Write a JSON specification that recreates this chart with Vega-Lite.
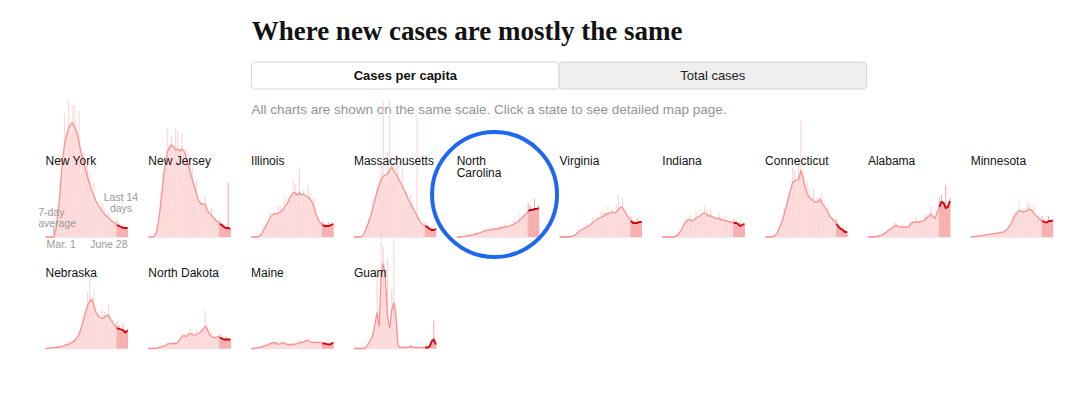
{
"$schema":"https://vega.github.io/schema/vega-lite/v6.json",
"background":"white",
"padding":{"left":37.5,"top":17,"right":0,"bottom":0},
"autosize":{"type":"pad"},
"config":{"view":{"stroke":null},"axis":{"disable":true},"font":"Liberation Sans","headerFacet":{"labels":false,"labelFontSize":0,"labelPadding":0}},
"title":{"text":"Where new cases are mostly the same","anchor":"start","dx":213.5,"offset":-5,"baseline":"alphabetic","font":"Liberation Serif","fontSize":27,"fontWeight":"bold","color":"#121212"},
"bounds":"flush",
"spacing":78,
"resolve":{"scale":{"x":"independent","y":"independent"}},
"vconcat":[
{
"width":1009,"height":27,
"data":{"values":[
{"k":"btn","t":"Cases per capita","x0":0,"x1":1,"xm":0.5,"on":1},
{"k":"btn","t":"Total cases","x0":1,"x1":2,"xm":1.5,"on":0},
{"k":"sub","t":"All charts are shown on the same scale. Click a state to see detailed map page.","x0":0}
]},
"layer":[
{"transform":[{"filter":"datum.k == 'btn'"}],
"mark":{"type":"rect","stroke":"#d6d6d6","strokeWidth":1,"cornerRadius":3},
"encoding":{
"x":{"field":"x0","type":"quantitative","scale":{"domain":[-0.67,2.611]},"axis":null},
"x2":{"field":"x1"},
"y":{"datum":0,"type":"quantitative","scale":{"domain":[0,1]},"axis":null},
"y2":{"datum":1},
"color":{"condition":{"test":"datum.on == 1","value":"#ffffff"},"value":"#efefef"}}},
{"transform":[{"filter":"datum.k == 'btn' && datum.on == 1"}],
"mark":{"type":"text","fontSize":13,"fontWeight":"bold","color":"#121212","baseline":"middle","align":"center"},
"encoding":{"x":{"field":"xm","type":"quantitative","scale":{"domain":[-0.67,2.611]},"axis":null},"y":{"datum":0.5,"type":"quantitative","scale":{"domain":[0,1]},"axis":null},"text":{"field":"t"}}},
{"transform":[{"filter":"datum.k == 'btn' && datum.on == 0"}],
"mark":{"type":"text","fontSize":13,"color":"#222222","baseline":"middle","align":"center"},
"encoding":{"x":{"field":"xm","type":"quantitative","scale":{"domain":[-0.67,2.611]},"axis":null},"y":{"datum":0.5,"type":"quantitative","scale":{"domain":[0,1]},"axis":null},"text":{"field":"t"}}},
{"transform":[{"filter":"datum.k == 'sub'"}],
"mark":{"type":"text","fontSize":13.5,"color":"#949494","baseline":"middle","align":"left"},
"encoding":{"x":{"field":"x0","type":"quantitative","scale":{"domain":[-0.67,2.611]},"axis":null},"y":{"datum":-0.78,"type":"quantitative","scale":{"domain":[0,1]},"axis":null},"text":{"field":"t"}}}
]
},
{
"data":{"values":[
{"s":"NY","t":"New York"},{"s":"NJ","t":"New Jersey"},{"s":"IL","t":"Illinois"},{"s":"MA","t":"Massachusetts"},{"s":"NC","t":"North\nCarolina"},{"s":"VA","t":"Virginia"},{"s":"IN","t":"Indiana"},{"s":"CT","t":"Connecticut"},{"s":"AL","t":"Alabama"},{"s":"MN","t":"Minnesota"},{"s":"NE","t":"Nebraska"},{"s":"ND","t":"North Dakota"},{"s":"ME","t":"Maine"},{"s":"GU","t":"Guam"},
{"s":"NY","k":"avg","n":"7-day\naverage","d":-10.5,"y":10.75},
{"s":"NY","k":"last","n":"Last 14\ndays","d":107.7,"y":18},
{"s":"NY","k":"start","n":"Mar. 1","d":1.5,"y":0},
{"s":"NY","k":"end","n":"June 28","d":117,"y":0},
{"s":"NY","k":"tick","d":12,"y":1,"y2":5},
{"s":"NC","k":"circle","d":54,"y":21.25},
{"s":"NY","d":0,"a":0,"b":0},{"s":"NY","d":3,"a":0,"b":0},{"s":"NY","d":6,"a":0,"b":0},{"s":"NY","d":9,"a":0,"b":0},{"s":"NY","d":12,"a":0,"b":0},{"s":"NY","d":15,"a":4,"b":3.5},{"s":"NY","d":18,"a":12.5,"b":16},{"s":"NY","d":21,"a":23.5,"b":28},{"s":"NY","d":24,"a":37.5,"b":30},{"s":"NY","d":27,"a":46,"b":62},{"s":"NY","d":30,"a":51,"b":38},{"s":"NY","d":33,"a":54.5,"b":68},{"s":"NY","d":36,"a":56.5,"b":51},{"s":"NY","d":39,"a":57,"b":66},{"s":"NY","d":42,"a":55,"b":66},{"s":"NY","d":45,"a":52,"b":41.5},{"s":"NY","d":48,"a":47,"b":63.5},{"s":"NY","d":51,"a":42,"b":31.5},{"s":"NY","d":54,"a":38,"b":42},{"s":"NY","d":57,"a":34,"b":30.5},{"s":"NY","d":60,"a":30,"b":39},{"s":"NY","d":63,"a":26.5,"b":32},{"s":"NY","d":66,"a":23,"b":18.5},{"s":"NY","d":69,"a":20.5,"b":27.5},{"s":"NY","d":72,"a":18,"b":13.5},{"s":"NY","d":75,"a":16,"b":17.5},{"s":"NY","d":78,"a":14.5,"b":13},{"s":"NY","d":81,"a":13,"b":17},{"s":"NY","d":84,"a":11.5,"b":14},{"s":"NY","d":87,"a":10.5,"b":8.5},{"s":"NY","d":90,"a":9.5,"b":13},{"s":"NY","d":93,"a":8.5,"b":6.5},{"s":"NY","d":96,"a":7.5,"b":8.5},{"s":"NY","d":99,"a":7,"b":6.5},{"s":"NY","d":102,"a":6,"b":8},{"s":"NY","d":105,"a":5.5,"b":6.5},{"s":"NY","d":108,"a":5,"b":4},{"s":"NY","d":111,"a":4.5,"b":6},{"s":"NY","d":114,"a":4.5,"b":3.5},{"s":"NY","d":117,"a":4.5,"b":5},
{"s":"NJ","d":0,"a":0,"b":0},{"s":"NJ","d":3,"a":0,"b":0},{"s":"NJ","d":6,"a":0,"b":0},{"s":"NJ","d":9,"a":0.5,"b":0.5},{"s":"NJ","d":12,"a":3,"b":3.5},{"s":"NJ","d":15,"a":9,"b":8},{"s":"NJ","d":18,"a":17.5,"b":23},{"s":"NJ","d":21,"a":27.5,"b":33},{"s":"NJ","d":24,"a":36,"b":29},{"s":"NJ","d":27,"a":42,"b":54},{"s":"NJ","d":30,"a":45,"b":34},{"s":"NJ","d":33,"a":46,"b":50.5},{"s":"NJ","d":36,"a":45,"b":40.5},{"s":"NJ","d":39,"a":43.5,"b":54},{"s":"NJ","d":42,"a":44,"b":53},{"s":"NJ","d":45,"a":43,"b":34.5},{"s":"NJ","d":48,"a":44,"b":52},{"s":"NJ","d":51,"a":43,"b":32},{"s":"NJ","d":54,"a":40,"b":44},{"s":"NJ","d":57,"a":36,"b":32.5},{"s":"NJ","d":60,"a":32,"b":41.5},{"s":"NJ","d":63,"a":28.5,"b":34},{"s":"NJ","d":66,"a":25,"b":20},{"s":"NJ","d":69,"a":21,"b":28.5},{"s":"NJ","d":72,"a":18,"b":13.5},{"s":"NJ","d":75,"a":16.5,"b":18},{"s":"NJ","d":78,"a":16.5,"b":15},{"s":"NJ","d":81,"a":16,"b":21},{"s":"NJ","d":84,"a":13.5,"b":16},{"s":"NJ","d":87,"a":12,"b":9.5},{"s":"NJ","d":90,"a":11,"b":15},{"s":"NJ","d":93,"a":9.5,"b":7},{"s":"NJ","d":96,"a":8.5,"b":9.5},{"s":"NJ","d":99,"a":7.5,"b":7},{"s":"NJ","d":102,"a":6.5,"b":8.5},{"s":"NJ","d":105,"a":6,"b":7},{"s":"NJ","d":108,"a":5,"b":4},{"s":"NJ","d":111,"a":4.5,"b":6},{"s":"NJ","d":114,"a":4.5,"b":27},{"s":"NJ","d":117,"a":4,"b":4.5},
{"s":"IL","d":0,"a":0,"b":0},{"s":"IL","d":3,"a":0,"b":0},{"s":"IL","d":6,"a":0,"b":0},{"s":"IL","d":9,"a":0,"b":0},{"s":"IL","d":12,"a":0.5,"b":0.5},{"s":"IL","d":15,"a":1.5,"b":1.5},{"s":"IL","d":18,"a":3.5,"b":4.5},{"s":"IL","d":21,"a":5.5,"b":6.5},{"s":"IL","d":24,"a":7.5,"b":6},{"s":"IL","d":27,"a":9.5,"b":13},{"s":"IL","d":30,"a":11,"b":8},{"s":"IL","d":33,"a":11.5,"b":12.5},{"s":"IL","d":36,"a":11.5,"b":10.5},{"s":"IL","d":39,"a":12,"b":15.5},{"s":"IL","d":42,"a":12.5,"b":15},{"s":"IL","d":45,"a":13.5,"b":11},{"s":"IL","d":48,"a":15,"b":20},{"s":"IL","d":51,"a":16.5,"b":12.5},{"s":"IL","d":54,"a":18.5,"b":20.5},{"s":"IL","d":57,"a":20.5,"b":18.5},{"s":"IL","d":60,"a":22,"b":28.5},{"s":"IL","d":63,"a":22,"b":26.5},{"s":"IL","d":66,"a":21,"b":17},{"s":"IL","d":69,"a":22,"b":35},{"s":"IL","d":72,"a":21,"b":16},{"s":"IL","d":75,"a":21.5,"b":23.5},{"s":"IL","d":78,"a":20.5,"b":18.5},{"s":"IL","d":81,"a":20,"b":26},{"s":"IL","d":84,"a":19,"b":23},{"s":"IL","d":87,"a":17.5,"b":14},{"s":"IL","d":90,"a":14.5,"b":19.5},{"s":"IL","d":93,"a":11,"b":8},{"s":"IL","d":96,"a":8.5,"b":9.5},{"s":"IL","d":99,"a":7,"b":6.5},{"s":"IL","d":102,"a":6,"b":8},{"s":"IL","d":105,"a":5.5,"b":6.5},{"s":"IL","d":108,"a":5.5,"b":4.5},{"s":"IL","d":111,"a":5.5,"b":7.5},{"s":"IL","d":114,"a":6,"b":4.5},{"s":"IL","d":117,"a":6.5,"b":7},
{"s":"MA","d":0,"a":0,"b":0},{"s":"MA","d":3,"a":0,"b":0},{"s":"MA","d":6,"a":0,"b":0},{"s":"MA","d":9,"a":0,"b":0},{"s":"MA","d":12,"a":0.5,"b":0.5},{"s":"MA","d":15,"a":2,"b":2},{"s":"MA","d":18,"a":4.5,"b":6},{"s":"MA","d":21,"a":7.5,"b":9},{"s":"MA","d":24,"a":10.5,"b":8.5},{"s":"MA","d":27,"a":14.5,"b":19.5},{"s":"MA","d":30,"a":18.5,"b":14},{"s":"MA","d":33,"a":22.5,"b":25},{"s":"MA","d":36,"a":26,"b":23.5},{"s":"MA","d":39,"a":29,"b":37.5},{"s":"MA","d":42,"a":30.5,"b":68},{"s":"MA","d":45,"a":31,"b":25},{"s":"MA","d":48,"a":31.5,"b":42.5},{"s":"MA","d":51,"a":33.5,"b":68},{"s":"MA","d":54,"a":35,"b":38.5},{"s":"MA","d":57,"a":33,"b":29.5},{"s":"MA","d":60,"a":31.5,"b":41},{"s":"MA","d":63,"a":29.5,"b":35.5},{"s":"MA","d":66,"a":27.5,"b":22},{"s":"MA","d":69,"a":25.5,"b":34.5},{"s":"MA","d":72,"a":23.5,"b":17.5},{"s":"MA","d":75,"a":21,"b":23},{"s":"MA","d":78,"a":18.5,"b":16.5},{"s":"MA","d":81,"a":16.5,"b":21.5},{"s":"MA","d":84,"a":14.5,"b":17.5},{"s":"MA","d":87,"a":12.5,"b":10},{"s":"MA","d":90,"a":10.5,"b":60},{"s":"MA","d":93,"a":8.5,"b":6.5},{"s":"MA","d":96,"a":7,"b":7.5},{"s":"MA","d":99,"a":6,"b":5.5},{"s":"MA","d":102,"a":5.5,"b":7},{"s":"MA","d":105,"a":5,"b":6},{"s":"MA","d":108,"a":4,"b":3},{"s":"MA","d":111,"a":3.5,"b":4.5},{"s":"MA","d":114,"a":3.5,"b":2.5},{"s":"MA","d":117,"a":4,"b":4.5},
{"s":"NC","d":0,"a":0,"b":0},{"s":"NC","d":3,"a":0,"b":0},{"s":"NC","d":6,"a":0,"b":0},{"s":"NC","d":9,"a":0.2,"b":0.2},{"s":"NC","d":12,"a":0.4,"b":0.4},{"s":"NC","d":15,"a":0.5,"b":0.5},{"s":"NC","d":18,"a":0.8,"b":1},{"s":"NC","d":21,"a":1,"b":1.2},{"s":"NC","d":24,"a":1.2,"b":1},{"s":"NC","d":27,"a":1.5,"b":2},{"s":"NC","d":30,"a":1.8,"b":1.4},{"s":"NC","d":33,"a":2,"b":2.2},{"s":"NC","d":36,"a":2.5,"b":2.2},{"s":"NC","d":39,"a":3,"b":4},{"s":"NC","d":42,"a":3.2,"b":3.8},{"s":"NC","d":45,"a":3.5,"b":2.8},{"s":"NC","d":48,"a":3.5,"b":4.7},{"s":"NC","d":51,"a":3.8,"b":2.8},{"s":"NC","d":54,"a":4,"b":4.4},{"s":"NC","d":57,"a":4,"b":3.6},{"s":"NC","d":60,"a":4.2,"b":5.5},{"s":"NC","d":63,"a":4.5,"b":5.4},{"s":"NC","d":66,"a":4.8,"b":3.8},{"s":"NC","d":69,"a":5,"b":6.8},{"s":"NC","d":72,"a":5.2,"b":3.9},{"s":"NC","d":75,"a":5.5,"b":6},{"s":"NC","d":78,"a":6,"b":5.4},{"s":"NC","d":81,"a":6.2,"b":8},{"s":"NC","d":84,"a":7,"b":8.4},{"s":"NC","d":87,"a":7.5,"b":6},{"s":"NC","d":90,"a":8.5,"b":11.5},{"s":"NC","d":93,"a":9.5,"b":7},{"s":"NC","d":96,"a":10.5,"b":11.5},{"s":"NC","d":99,"a":11.5,"b":10.5},{"s":"NC","d":102,"a":13,"b":17},{"s":"NC","d":105,"a":13.5,"b":16},{"s":"NC","d":108,"a":13.5,"b":11},{"s":"NC","d":111,"a":14,"b":19},{"s":"NC","d":114,"a":14,"b":10.5},{"s":"NC","d":117,"a":14.5,"b":16},
{"s":"VA","d":0,"a":0,"b":0},{"s":"VA","d":3,"a":0,"b":0},{"s":"VA","d":6,"a":0,"b":0},{"s":"VA","d":9,"a":0,"b":0},{"s":"VA","d":12,"a":0,"b":0},{"s":"VA","d":15,"a":0.2,"b":0.2},{"s":"VA","d":18,"a":0.2,"b":0.3},{"s":"VA","d":21,"a":0.8,"b":1},{"s":"VA","d":24,"a":1.5,"b":1.2},{"s":"VA","d":27,"a":2.5,"b":3.4},{"s":"VA","d":30,"a":3.5,"b":2.6},{"s":"VA","d":33,"a":4,"b":4.4},{"s":"VA","d":36,"a":4.5,"b":4},{"s":"VA","d":39,"a":5,"b":6.5},{"s":"VA","d":42,"a":5.5,"b":6.6},{"s":"VA","d":45,"a":6.5,"b":5.2},{"s":"VA","d":48,"a":7.5,"b":10},{"s":"VA","d":51,"a":8,"b":6},{"s":"VA","d":54,"a":9,"b":10},{"s":"VA","d":57,"a":9.5,"b":8.5},{"s":"VA","d":60,"a":10,"b":13},{"s":"VA","d":63,"a":10.5,"b":12.5},{"s":"VA","d":66,"a":11.5,"b":9.2},{"s":"VA","d":69,"a":11.5,"b":15.5},{"s":"VA","d":72,"a":12,"b":9},{"s":"VA","d":75,"a":12.5,"b":13.8},{"s":"VA","d":78,"a":12,"b":10.8},{"s":"VA","d":81,"a":12.5,"b":16.3},{"s":"VA","d":84,"a":13.5,"b":21},{"s":"VA","d":87,"a":15,"b":12},{"s":"VA","d":90,"a":14.5,"b":19.6},{"s":"VA","d":93,"a":13,"b":9.8},{"s":"VA","d":96,"a":11,"b":12},{"s":"VA","d":99,"a":9.5,"b":8.5},{"s":"VA","d":102,"a":8,"b":10.4},{"s":"VA","d":105,"a":7,"b":8.4},{"s":"VA","d":108,"a":7,"b":5.6},{"s":"VA","d":111,"a":7,"b":9.5},{"s":"VA","d":114,"a":7.5,"b":5.6},{"s":"VA","d":117,"a":7.5,"b":8.2},
{"s":"IN","d":0,"a":0,"b":0},{"s":"IN","d":3,"a":0,"b":0},{"s":"IN","d":6,"a":0,"b":0},{"s":"IN","d":9,"a":0,"b":0},{"s":"IN","d":12,"a":0,"b":0},{"s":"IN","d":15,"a":0,"b":0},{"s":"IN","d":18,"a":0.2,"b":0.3},{"s":"IN","d":21,"a":0.8,"b":1},{"s":"IN","d":24,"a":2,"b":1.6},{"s":"IN","d":27,"a":3.5,"b":4.7},{"s":"IN","d":30,"a":5.5,"b":4.1},{"s":"IN","d":33,"a":7.5,"b":8.3},{"s":"IN","d":36,"a":8.5,"b":7.7},{"s":"IN","d":39,"a":8.5,"b":11},{"s":"IN","d":42,"a":8,"b":9.6},{"s":"IN","d":45,"a":8.5,"b":6.8},{"s":"IN","d":48,"a":9.5,"b":12.8},{"s":"IN","d":51,"a":10,"b":7.5},{"s":"IN","d":54,"a":10.5,"b":11.5},{"s":"IN","d":57,"a":11.5,"b":10.4},{"s":"IN","d":60,"a":12,"b":15.6},{"s":"IN","d":63,"a":11.5,"b":13.8},{"s":"IN","d":66,"a":10.5,"b":8.4},{"s":"IN","d":69,"a":10.5,"b":14.2},{"s":"IN","d":72,"a":10,"b":7.5},{"s":"IN","d":75,"a":9.5,"b":10.5},{"s":"IN","d":78,"a":9,"b":8.1},{"s":"IN","d":81,"a":9.5,"b":12.4},{"s":"IN","d":84,"a":8.5,"b":10.2},{"s":"IN","d":87,"a":8.5,"b":6.8},{"s":"IN","d":90,"a":8,"b":10.8},{"s":"IN","d":93,"a":8,"b":6},{"s":"IN","d":96,"a":7.5,"b":8.3},{"s":"IN","d":99,"a":7.5,"b":6.8},{"s":"IN","d":102,"a":7,"b":9.1},{"s":"IN","d":105,"a":7,"b":8.4},{"s":"IN","d":108,"a":6.5,"b":5.2},{"s":"IN","d":111,"a":5.5,"b":7.4},{"s":"IN","d":114,"a":6,"b":4.5},{"s":"IN","d":117,"a":6.5,"b":7.2},
{"s":"CT","d":0,"a":0,"b":0},{"s":"CT","d":3,"a":0,"b":0},{"s":"CT","d":6,"a":0,"b":0},{"s":"CT","d":9,"a":0,"b":0},{"s":"CT","d":12,"a":0.2,"b":0.2},{"s":"CT","d":15,"a":1,"b":0.9},{"s":"CT","d":18,"a":2.5,"b":3.3},{"s":"CT","d":21,"a":5,"b":6},{"s":"CT","d":24,"a":7.5,"b":6},{"s":"CT","d":27,"a":11,"b":15},{"s":"CT","d":30,"a":15,"b":11},{"s":"CT","d":33,"a":19,"b":21},{"s":"CT","d":36,"a":23,"b":20.5},{"s":"CT","d":39,"a":27,"b":35},{"s":"CT","d":42,"a":28,"b":33.5},{"s":"CT","d":45,"a":28.5,"b":23},{"s":"CT","d":48,"a":29,"b":39},{"s":"CT","d":51,"a":33,"b":58},{"s":"CT","d":54,"a":30,"b":33},{"s":"CT","d":57,"a":25,"b":22.5},{"s":"CT","d":60,"a":21.5,"b":28},{"s":"CT","d":63,"a":20,"b":24},{"s":"CT","d":66,"a":19,"b":15},{"s":"CT","d":69,"a":18,"b":24.5},{"s":"CT","d":72,"a":17.5,"b":13},{"s":"CT","d":75,"a":17.5,"b":19.5},{"s":"CT","d":78,"a":19,"b":17},{"s":"CT","d":81,"a":17,"b":22},{"s":"CT","d":84,"a":15.5,"b":18.5},{"s":"CT","d":87,"a":14,"b":11},{"s":"CT","d":90,"a":12,"b":16},{"s":"CT","d":93,"a":10,"b":7.5},{"s":"CT","d":96,"a":9,"b":10},{"s":"CT","d":99,"a":8,"b":7},{"s":"CT","d":102,"a":6.5,"b":8.5},{"s":"CT","d":105,"a":5,"b":6},{"s":"CT","d":108,"a":4,"b":3.2},{"s":"CT","d":111,"a":3.5,"b":4.7},{"s":"CT","d":114,"a":2.5,"b":1.9},{"s":"CT","d":117,"a":2.5,"b":2.8},
{"s":"AL","d":0,"a":0,"b":0},{"s":"AL","d":3,"a":0,"b":0},{"s":"AL","d":6,"a":0,"b":0},{"s":"AL","d":9,"a":0,"b":0},{"s":"AL","d":12,"a":0.2,"b":0.2},{"s":"AL","d":15,"a":0.5,"b":0.5},{"s":"AL","d":18,"a":0.8,"b":1},{"s":"AL","d":21,"a":1.2,"b":1.4},{"s":"AL","d":24,"a":1.8,"b":1.4},{"s":"AL","d":27,"a":2.5,"b":3.4},{"s":"AL","d":30,"a":3.5,"b":2.6},{"s":"AL","d":33,"a":4.2,"b":4.6},{"s":"AL","d":36,"a":5,"b":4.5},{"s":"AL","d":39,"a":5.8,"b":7.5},{"s":"AL","d":42,"a":5.5,"b":6.6},{"s":"AL","d":45,"a":5,"b":4},{"s":"AL","d":48,"a":4.8,"b":6.5},{"s":"AL","d":51,"a":5,"b":3.8},{"s":"AL","d":54,"a":5,"b":5.5},{"s":"AL","d":57,"a":5,"b":4.5},{"s":"AL","d":60,"a":6,"b":7.8},{"s":"AL","d":63,"a":7,"b":8.4},{"s":"AL","d":66,"a":7.5,"b":6},{"s":"AL","d":69,"a":7.5,"b":10},{"s":"AL","d":72,"a":7.5,"b":5.6},{"s":"AL","d":75,"a":7.5,"b":8.2},{"s":"AL","d":78,"a":8,"b":7.2},{"s":"AL","d":81,"a":8.5,"b":11},{"s":"AL","d":84,"a":9.5,"b":11.4},{"s":"AL","d":87,"a":10.5,"b":8.4},{"s":"AL","d":90,"a":11.5,"b":15.5},{"s":"AL","d":93,"a":10,"b":7.5},{"s":"AL","d":96,"a":9.5,"b":10.5},{"s":"AL","d":99,"a":12.5,"b":11.2},{"s":"AL","d":102,"a":15,"b":19.5},{"s":"AL","d":105,"a":17.5,"b":21},{"s":"AL","d":108,"a":17,"b":13.6},{"s":"AL","d":111,"a":14.5,"b":26},{"s":"AL","d":114,"a":15,"b":11.2},{"s":"AL","d":117,"a":18,"b":19.8},
{"s":"MN","d":0,"a":0,"b":0},{"s":"MN","d":3,"a":0.2,"b":0.2},{"s":"MN","d":6,"a":0.2,"b":0.3},{"s":"MN","d":9,"a":0.4,"b":0.3},{"s":"MN","d":12,"a":0.5,"b":0.5},{"s":"MN","d":15,"a":0.6,"b":0.5},{"s":"MN","d":18,"a":0.8,"b":1},{"s":"MN","d":21,"a":1,"b":1.2},{"s":"MN","d":24,"a":1.2,"b":1},{"s":"MN","d":27,"a":1.4,"b":1.9},{"s":"MN","d":30,"a":1.5,"b":1.1},{"s":"MN","d":33,"a":1.7,"b":1.9},{"s":"MN","d":36,"a":1.8,"b":1.6},{"s":"MN","d":39,"a":2,"b":2.6},{"s":"MN","d":42,"a":2.2,"b":2.6},{"s":"MN","d":45,"a":2.4,"b":1.9},{"s":"MN","d":48,"a":2.5,"b":3.4},{"s":"MN","d":51,"a":3.5,"b":2.6},{"s":"MN","d":54,"a":4.8,"b":5.3},{"s":"MN","d":57,"a":6.5,"b":5.9},{"s":"MN","d":60,"a":8.5,"b":11},{"s":"MN","d":63,"a":10.5,"b":12.6},{"s":"MN","d":66,"a":12,"b":9.6},{"s":"MN","d":69,"a":13.2,"b":17.8},{"s":"MN","d":72,"a":13,"b":9.8},{"s":"MN","d":75,"a":12.5,"b":13.8},{"s":"MN","d":78,"a":12.8,"b":11.5},{"s":"MN","d":81,"a":13.5,"b":17.5},{"s":"MN","d":84,"a":14,"b":16.8},{"s":"MN","d":87,"a":13.2,"b":10.6},{"s":"MN","d":90,"a":12,"b":16.2},{"s":"MN","d":93,"a":10.8,"b":8.1},{"s":"MN","d":96,"a":9.8,"b":10.8},{"s":"MN","d":99,"a":8.8,"b":7.9},{"s":"MN","d":102,"a":8,"b":10.4},{"s":"MN","d":105,"a":7.5,"b":9},{"s":"MN","d":108,"a":7.2,"b":5.8},{"s":"MN","d":111,"a":7.8,"b":10.5},{"s":"MN","d":114,"a":8,"b":6},{"s":"MN","d":117,"a":8.2,"b":9},
{"s":"NE","d":0,"a":0,"b":0},{"s":"NE","d":3,"a":0.1,"b":0.1},{"s":"NE","d":6,"a":0.2,"b":0.3},{"s":"NE","d":9,"a":0.3,"b":0.2},{"s":"NE","d":12,"a":0.4,"b":0.4},{"s":"NE","d":15,"a":0.5,"b":0.5},{"s":"NE","d":18,"a":0.7,"b":0.9},{"s":"NE","d":21,"a":0.9,"b":1.1},{"s":"NE","d":24,"a":1.1,"b":0.9},{"s":"NE","d":27,"a":1.5,"b":2},{"s":"NE","d":30,"a":1.9,"b":1.4},{"s":"NE","d":33,"a":2.2,"b":2.4},{"s":"NE","d":36,"a":2.8,"b":2.5},{"s":"NE","d":39,"a":3.2,"b":4.2},{"s":"NE","d":42,"a":4,"b":4.8},{"s":"NE","d":45,"a":5.5,"b":4.4},{"s":"NE","d":48,"a":7,"b":9.5},{"s":"NE","d":51,"a":10.5,"b":7.9},{"s":"NE","d":54,"a":14,"b":15.4},{"s":"NE","d":57,"a":18,"b":16.2},{"s":"NE","d":60,"a":21.5,"b":28},{"s":"NE","d":63,"a":23.5,"b":35},{"s":"NE","d":66,"a":24.5,"b":19.6},{"s":"NE","d":69,"a":21.5,"b":29},{"s":"NE","d":72,"a":18,"b":13.5},{"s":"NE","d":75,"a":16.5,"b":18},{"s":"NE","d":78,"a":15.5,"b":14},{"s":"NE","d":81,"a":15,"b":19.5},{"s":"NE","d":84,"a":15.5,"b":18.6},{"s":"NE","d":87,"a":16.5,"b":13.2},{"s":"NE","d":90,"a":16.5,"b":22.3},{"s":"NE","d":93,"a":14.5,"b":10.9},{"s":"NE","d":96,"a":13,"b":14.3},{"s":"NE","d":99,"a":11.5,"b":10.4},{"s":"NE","d":102,"a":10.2,"b":13.3},{"s":"NE","d":105,"a":9.8,"b":11.8},{"s":"NE","d":108,"a":9.5,"b":7.6},{"s":"NE","d":111,"a":9,"b":12.2},{"s":"NE","d":114,"a":8,"b":6},{"s":"NE","d":117,"a":9,"b":9.9},
{"s":"ND","d":0,"a":0,"b":0},{"s":"ND","d":3,"a":0,"b":0},{"s":"ND","d":6,"a":0,"b":0},{"s":"ND","d":9,"a":0,"b":0},{"s":"ND","d":12,"a":0.2,"b":0.2},{"s":"ND","d":15,"a":0.5,"b":0.5},{"s":"ND","d":18,"a":0.8,"b":1},{"s":"ND","d":21,"a":1.2,"b":1.4},{"s":"ND","d":24,"a":1.5,"b":1.2},{"s":"ND","d":27,"a":2,"b":2.7},{"s":"ND","d":30,"a":2.5,"b":1.9},{"s":"ND","d":33,"a":2.5,"b":2.8},{"s":"ND","d":36,"a":2.5,"b":2.2},{"s":"ND","d":39,"a":2.5,"b":3.2},{"s":"ND","d":42,"a":3,"b":3.6},{"s":"ND","d":45,"a":4.5,"b":3.6},{"s":"ND","d":48,"a":6,"b":8},{"s":"ND","d":51,"a":6.5,"b":4.9},{"s":"ND","d":54,"a":6,"b":6.6},{"s":"ND","d":57,"a":7,"b":6.3},{"s":"ND","d":60,"a":7.5,"b":9.8},{"s":"ND","d":63,"a":7,"b":8.4},{"s":"ND","d":66,"a":6.5,"b":5.2},{"s":"ND","d":69,"a":7,"b":9.5},{"s":"ND","d":72,"a":7.5,"b":5.6},{"s":"ND","d":75,"a":8.5,"b":9.4},{"s":"ND","d":78,"a":9.5,"b":8.6},{"s":"ND","d":81,"a":11,"b":19},{"s":"ND","d":84,"a":10,"b":12},{"s":"ND","d":87,"a":7,"b":5.6},{"s":"ND","d":90,"a":6,"b":8.1},{"s":"ND","d":93,"a":5.5,"b":4.1},{"s":"ND","d":96,"a":5.5,"b":6},{"s":"ND","d":99,"a":6,"b":5.4},{"s":"ND","d":102,"a":5.5,"b":7.2},{"s":"ND","d":105,"a":5,"b":6},{"s":"ND","d":108,"a":4.5,"b":3.6},{"s":"ND","d":111,"a":4.5,"b":6.1},{"s":"ND","d":114,"a":4.5,"b":3.4},{"s":"ND","d":117,"a":4.5,"b":5},
{"s":"ME","d":0,"a":0,"b":0},{"s":"ME","d":3,"a":0,"b":0},{"s":"ME","d":6,"a":0.2,"b":0.3},{"s":"ME","d":9,"a":0.4,"b":0.3},{"s":"ME","d":12,"a":0.5,"b":0.6},{"s":"ME","d":15,"a":0.8,"b":0.7},{"s":"ME","d":18,"a":1.2,"b":1.6},{"s":"ME","d":21,"a":1.5,"b":1.8},{"s":"ME","d":24,"a":1.8,"b":1.4},{"s":"ME","d":27,"a":2.5,"b":3.4},{"s":"ME","d":30,"a":2.5,"b":1.9},{"s":"ME","d":33,"a":3,"b":3.3},{"s":"ME","d":36,"a":2.8,"b":2.5},{"s":"ME","d":39,"a":2,"b":2.6},{"s":"ME","d":42,"a":2.5,"b":3},{"s":"ME","d":45,"a":3,"b":2.4},{"s":"ME","d":48,"a":2.5,"b":3.4},{"s":"ME","d":51,"a":2,"b":1.5},{"s":"ME","d":54,"a":2,"b":2.2},{"s":"ME","d":57,"a":2,"b":1.8},{"s":"ME","d":60,"a":2,"b":2.6},{"s":"ME","d":63,"a":2.2,"b":2.6},{"s":"ME","d":66,"a":2.5,"b":2},{"s":"ME","d":69,"a":3,"b":4},{"s":"ME","d":72,"a":3,"b":2.2},{"s":"ME","d":75,"a":3.2,"b":3.5},{"s":"ME","d":78,"a":4,"b":3.6},{"s":"ME","d":81,"a":4,"b":6},{"s":"ME","d":84,"a":3.5,"b":4.2},{"s":"ME","d":87,"a":3,"b":2.4},{"s":"ME","d":90,"a":3,"b":4},{"s":"ME","d":93,"a":3,"b":2.2},{"s":"ME","d":96,"a":3,"b":3.3},{"s":"ME","d":99,"a":3,"b":2.7},{"s":"ME","d":102,"a":2.5,"b":3.2},{"s":"ME","d":105,"a":2.5,"b":3},{"s":"ME","d":108,"a":2.2,"b":1.8},{"s":"ME","d":111,"a":2,"b":2.7},{"s":"ME","d":114,"a":2.2,"b":1.6},{"s":"ME","d":117,"a":3,"b":3.3},
{"s":"GU","d":0,"a":0,"b":0},{"s":"GU","d":3,"a":0,"b":0},{"s":"GU","d":6,"a":0,"b":0},{"s":"GU","d":9,"a":0,"b":0},{"s":"GU","d":12,"a":0,"b":0},{"s":"GU","d":15,"a":0,"b":0},{"s":"GU","d":18,"a":1,"b":1.3},{"s":"GU","d":21,"a":2.5,"b":3},{"s":"GU","d":24,"a":4.5,"b":3.6},{"s":"GU","d":27,"a":6.5,"b":8.8},{"s":"GU","d":30,"a":12,"b":9},{"s":"GU","d":33,"a":18,"b":40},{"s":"GU","d":36,"a":11,"b":14},{"s":"GU","d":39,"a":37.5,"b":80},{"s":"GU","d":42,"a":42.5,"b":51},{"s":"GU","d":45,"a":35,"b":28},{"s":"GU","d":48,"a":16,"b":45},{"s":"GU","d":51,"a":10,"b":7.5},{"s":"GU","d":54,"a":19,"b":30},{"s":"GU","d":57,"a":23,"b":55},{"s":"GU","d":60,"a":16,"b":21},{"s":"GU","d":63,"a":1.5,"b":1.8},{"s":"GU","d":66,"a":0.5,"b":0.4},{"s":"GU","d":69,"a":0.5,"b":0.7},{"s":"GU","d":72,"a":0.5,"b":0.4},{"s":"GU","d":75,"a":0.5,"b":0.6},{"s":"GU","d":78,"a":0.8,"b":0.7},{"s":"GU","d":81,"a":1,"b":2.5},{"s":"GU","d":84,"a":0.8,"b":1},{"s":"GU","d":87,"a":0.5,"b":0.4},{"s":"GU","d":90,"a":0.5,"b":0.7},{"s":"GU","d":93,"a":0.5,"b":0.4},{"s":"GU","d":96,"a":0.5,"b":0.6},{"s":"GU","d":99,"a":0.5,"b":0.5},{"s":"GU","d":102,"a":0.5,"b":0.7},{"s":"GU","d":105,"a":0.5,"b":0.6},{"s":"GU","d":108,"a":1,"b":0.8},{"s":"GU","d":111,"a":3.5,"b":4.7},{"s":"GU","d":114,"a":4.5,"b":14},{"s":"GU","d":117,"a":2,"b":2.2}
]},
"facet":{"field":"s","type":"nominal","title":null,"header":{"labels":false,"labelExpr":"''","labelFontSize":0,"labelPadding":0},"sort":["NY","NJ","IL","MA","NC","VA","IN","CT","AL","MN","NE","ND","ME","GU"]},
"columns":10,
"spacing":{"row":41.5,"column":20.8},
"bounds":"flush",
"spec":{
"width":82,"height":70,
"layer":[
{"transform":[{"filter":"isValid(datum.a) && datum.d === 0"}],
"mark":{"type":"rule","color":"#e6e6e6","strokeWidth":1.5},
"encoding":{"x":{"datum":0,"type":"quantitative","scale":{"domain":[0,117]},"axis":null},"x2":{"datum":117},"y":{"datum":0,"type":"quantitative","scale":{"domain":[0,35]},"axis":null}}},
{"transform":[{"filter":"isValid(datum.a)"}],
"mark":{"type":"area","color":"#ffe2e2"},
"encoding":{"x":{"field":"d","type":"quantitative","scale":{"domain":[0,117]},"axis":null},"y":{"field":"a","type":"quantitative","scale":{"domain":[0,35]},"axis":null}}},
{"transform":[{"filter":"isValid(datum.a) && datum.d >= 102"}],
"mark":{"type":"area","color":"#f8b6b6"},
"encoding":{"x":{"field":"d","type":"quantitative","scale":{"domain":[0,117]},"axis":null},"y":{"field":"a","type":"quantitative","scale":{"domain":[0,35]},"axis":null}}},
{"transform":[{"filter":"isValid(datum.a)"}],
"mark":{"type":"rule","strokeWidth":1.1},
"encoding":{"x":{"field":"d","type":"quantitative","scale":{"domain":[0,117]},"axis":null},"y":{"field":"b","type":"quantitative","scale":{"domain":[0,35]},"axis":null},"y2":{"datum":0},
"color":{"condition":{"test":"datum.d >= 102","value":"#f6acac"},"value":"#ffd4d4"}}},
{"transform":[{"filter":"isValid(datum.a)"}],
"mark":{"type":"line","color":"#ff8f8f","strokeWidth":1.3},
"encoding":{"x":{"field":"d","type":"quantitative","scale":{"domain":[0,117]},"axis":null},"y":{"field":"a","type":"quantitative","scale":{"domain":[0,35]},"axis":null}}},
{"transform":[{"filter":"isValid(datum.a) && datum.d >= 102"}],
"mark":{"type":"line","color":"#d7000f","strokeWidth":1.8},
"encoding":{"x":{"field":"d","type":"quantitative","scale":{"domain":[0,117]},"axis":null},"y":{"field":"a","type":"quantitative","scale":{"domain":[0,35]},"axis":null}}},
{"transform":[{"filter":"isValid(datum.t)"}],
"mark":{"type":"text","align":"left","baseline":"alphabetic","fontSize":12,"lineHeight":12,"lineBreak":"\n","color":"#121212"},
"encoding":{"x":{"datum":0,"type":"quantitative","scale":{"domain":[0,117]},"axis":null},"y":{"datum":36,"type":"quantitative","scale":{"domain":[0,35]},"axis":null},"text":{"field":"t"}}},
{"transform":[{"filter":"datum.k == 'avg'"}],
"mark":{"type":"text","align":"left","baseline":"alphabetic","fontSize":10.5,"lineHeight":11,"lineBreak":"\n","color":"#999999"},
"encoding":{"x":{"field":"d","type":"quantitative","scale":{"domain":[0,117]},"axis":null},"y":{"field":"y","type":"quantitative","scale":{"domain":[0,35]},"axis":null},"text":{"field":"n"}}},
{"transform":[{"filter":"datum.k == 'last'"}],
"mark":{"type":"text","align":"center","baseline":"alphabetic","fontSize":10.5,"lineHeight":11,"lineBreak":"\n","color":"#999999"},
"encoding":{"x":{"field":"d","type":"quantitative","scale":{"domain":[0,117]},"axis":null},"y":{"field":"y","type":"quantitative","scale":{"domain":[0,35]},"axis":null},"text":{"field":"n"}}},
{"transform":[{"filter":"datum.k == 'start'"}],
"mark":{"type":"text","align":"left","baseline":"top","dy":3,"fontSize":10.5,"color":"#999999"},
"encoding":{"x":{"field":"d","type":"quantitative","scale":{"domain":[0,117]},"axis":null},"y":{"field":"y","type":"quantitative","scale":{"domain":[0,35]},"axis":null},"text":{"field":"n"}}},
{"transform":[{"filter":"datum.k == 'end'"}],
"mark":{"type":"text","align":"right","baseline":"top","dy":3,"fontSize":10.5,"color":"#999999"},
"encoding":{"x":{"field":"d","type":"quantitative","scale":{"domain":[0,117]},"axis":null},"y":{"field":"y","type":"quantitative","scale":{"domain":[0,35]},"axis":null},"text":{"field":"n"}}},
{"transform":[{"filter":"datum.k == 'tick'"}],
"mark":{"type":"rule","color":"#aaaaaa","strokeWidth":1},
"encoding":{"x":{"field":"d","type":"quantitative","scale":{"domain":[0,117]},"axis":null},"y":{"field":"y","type":"quantitative","scale":{"domain":[0,35]},"axis":null},"y2":{"field":"y2"}}},
{"transform":[{"filter":"datum.k == 'circle'"}],
"mark":{"type":"point","shape":"circle","filled":false,"size":15625,"color":"#1f66f0","strokeWidth":4,"opacity":1},
"encoding":{"x":{"field":"d","type":"quantitative","scale":{"domain":[0,117]},"axis":null},"y":{"field":"y","type":"quantitative","scale":{"domain":[0,35]},"axis":null}}}
]
}
}
]
}
